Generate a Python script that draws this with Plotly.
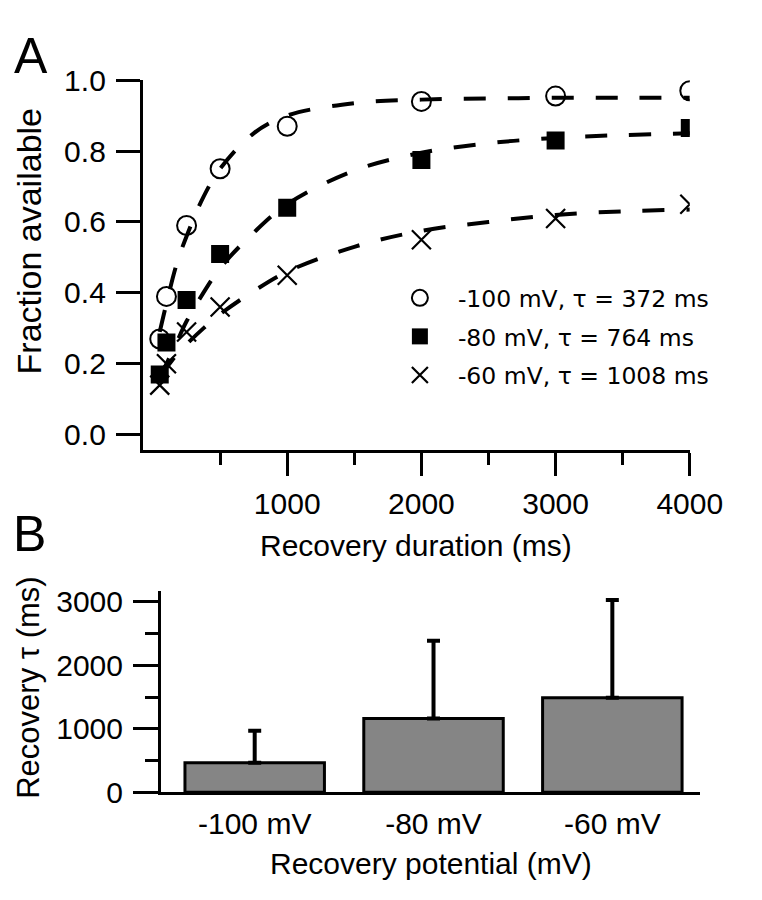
import plotly.graph_objects as go

# ---------------- Panel A data ----------------
durations_ms = [50, 100, 250, 500, 1000, 2000, 3000, 4000]
frac_m100 = [0.27, 0.39, 0.59, 0.75, 0.87, 0.94, 0.955, 0.97]
frac_m80 = [0.17, 0.26, 0.38, 0.51, 0.64, 0.775, 0.83, 0.865]
frac_m60 = [0.14, 0.20, 0.29, 0.36, 0.45, 0.55, 0.61, 0.65]

# dashed fit curves
fit_x = [50, 100, 175, 250, 375, 500, 750, 1000, 1500, 2000, 2500, 3000, 3500, 4000]
fit_m100 = [0.29, 0.37, 0.48, 0.56, 0.67, 0.75, 0.85, 0.90, 0.935, 0.945, 0.948, 0.95, 0.95, 0.95]
fit_m80 = [0.16, 0.20, 0.26, 0.32, 0.40, 0.47, 0.57, 0.65, 0.745, 0.795, 0.822, 0.837, 0.845, 0.85]
fit_m60 = [0.17, 0.19, 0.225, 0.255, 0.30, 0.34, 0.405, 0.46, 0.53, 0.575, 0.60, 0.62, 0.63, 0.635]

legend_labels = ["-100 mV, \u03c4 = 372 ms", "-80 mV, \u03c4 = 764 ms", "-60 mV, \u03c4 = 1008 ms"]
x_ticks_a = [1000, 2000, 3000, 4000]
x_minor_a = [500, 1500, 2500, 3500]
y_ticks_a = [0.0, 0.2, 0.4, 0.6, 0.8, 1.0]

# ---------------- Panel B data ----------------
potentials = ["-100 mV", "-80 mV", "-60 mV"]
tau_mean = [465, 1162, 1491]
tau_err = [505, 1223, 1539]
y_ticks_b = [0, 1000, 2000, 3000]
y_minor_b = [500, 1500, 2500]

AX_FONT = dict(family="Liberation Sans, Arial, sans-serif", size=30, color="black")
YTITLE_A_FONT = dict(family="Liberation Sans, Arial, sans-serif", size=34, color="black")
YTITLE_B_FONT = dict(family="Liberation Sans, Arial, sans-serif", size=31, color="black")
LEG_FONT = dict(family="DejaVu Sans, sans-serif", size=23.5, color="black")

# page has an 8px body margin: figure is 754x892 starting at (8, 8) of the window
OFF = 8.0
W = 762.0 - OFF
H = 900.0 - OFF


def px(x):
    return (x - OFF) / W


def py(y):
    return 1 - (y - OFF) / H


fig = go.Figure()

# fit curves
for fy in (fit_m100, fit_m80, fit_m60):
    fig.add_trace(go.Scatter(
        x=fit_x, y=fy, mode="lines", line=dict(color="black", width=4, dash="22px,22px", shape="spline"),
        showlegend=False, hoverinfo="skip", xaxis="x", yaxis="y"))

marker_specs = [
    dict(symbol="circle-open", size=19, color="black", line=dict(width=2, color="black")),
    dict(symbol="square", size=18, color="black", line=dict(width=0)),
    dict(symbol="x-thin-open", size=19, color="black", line=dict(width=2.2, color="black")),
]
for i, (vals, ms) in enumerate(zip((frac_m100, frac_m80, frac_m60), marker_specs)):
    fig.add_trace(go.Scatter(
        x=durations_ms, y=vals, mode="markers", marker=ms, name=legend_labels[i],
        legendgroup=f"g{i}", xaxis="x", yaxis="y"))

# bars
fig.add_trace(go.Bar(
    x=[0, 1, 2], y=tau_mean, width=0.78,
    marker=dict(color="#858585", line=dict(color="black", width=3)),
    error_y=dict(type="data", array=tau_err, arrayminus=[0, 0, 0], symmetric=False,
                 color="black", thickness=4, width=6.5),
    showlegend=False, xaxis="x2", yaxis="y2"))

fig.update_layout(
    width=int(W), height=int(H), autosize=False,
    margin=dict(l=0, r=0, t=0, b=0),
    paper_bgcolor="white", plot_bgcolor="white",
    font=AX_FONT,
    showlegend=True,
    legend=dict(x=px(399), y=py(269), xanchor="left", yanchor="top",
                font=LEG_FONT, bgcolor="rgba(0,0,0,0)", traceorder="grouped",
                tracegroupgap=5, itemwidth=66),
    xaxis=dict(domain=[px(149), px(721)], range=[-76, 4000], anchor="y",
               showline=True, linewidth=3, linecolor="black", mirror=False,
               showgrid=False, zeroline=False,
               tickmode="array", tickvals=x_ticks_a, ticks="outside", ticklen=23, tickwidth=3,
               tickcolor="black", tickfont=AX_FONT, ticklabelstandoff=2,
               minor=dict(tickmode="array", tickvals=x_minor_a, ticks="outside", ticklen=12,
                          tickwidth=3, tickcolor="black")),
    yaxis=dict(domain=[py(450), py(65.3)], range=[-0.0434, 1.0], anchor="x",
               showline=True, linewidth=3, linecolor="black",
               showgrid=False, zeroline=False,
               tickmode="array", tickvals=y_ticks_a, tickformat=".1f",
               ticks="outside", ticklen=24, tickwidth=3, tickcolor="black",
               tickfont=AX_FONT, ticklabelstandoff=4),
    xaxis2=dict(domain=[px(168), px(732)], range=[-0.524, 2.492], anchor="y2",
                showline=True, linewidth=3, linecolor="black",
                showgrid=False, zeroline=False,
                tickmode="array", tickvals=[0, 1, 2], ticktext=potentials, ticks="",
                tickfont=AX_FONT, ticklabelstandoff=3),
    yaxis2=dict(domain=[py(805.7), py(596)], range=[0, 3177], anchor="x2",
                showline=True, linewidth=3, linecolor="black",
                showgrid=False, zeroline=False,
                tickmode="array", tickvals=y_ticks_b, ticks="outside", ticklen=25, tickwidth=3,
                tickcolor="black", tickfont=AX_FONT, ticklabelstandoff=4,
                minor=dict(tickmode="array", tickvals=y_minor_b, ticks="outside", ticklen=13,
                           tickwidth=3, tickcolor="black")),
)

annotations = [
    dict(text="A", x=px(32), y=py(40), font=dict(family="Liberation Sans, Arial", size=50, color="black")),
    dict(text="B", x=px(30), y=py(537), font=dict(family="Liberation Sans, Arial", size=50, color="black")),
    dict(text="Fraction available", x=px(30), y=py(233), textangle=-90, font=YTITLE_A_FONT),
    dict(text="Recovery duration (ms)", x=px(435), y=py(549), font=AX_FONT),
    dict(text="Recovery \u03c4 (ms)", x=px(30), y=py(697), textangle=-90, font=YTITLE_B_FONT),
    dict(text="Recovery potential (mV)", x=px(450), y=py(880), font=AX_FONT),
]
for a in annotations:
    a.update(xref="paper", yref="paper", showarrow=False, xanchor="center", yanchor="middle")
fig.update_layout(annotations=annotations)

fig.write_html("out.html")
